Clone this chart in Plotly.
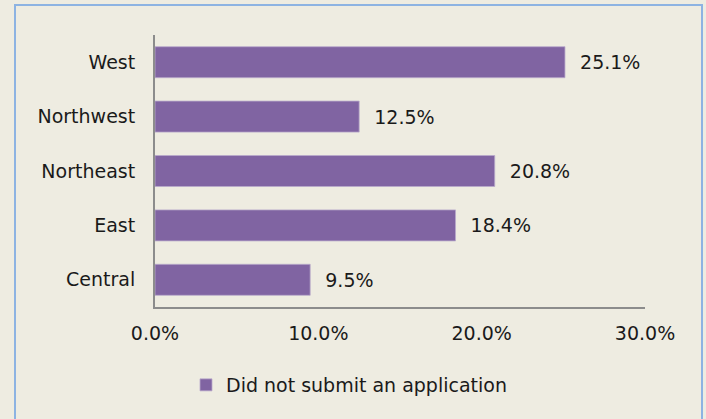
import plotly.graph_objects as go

regions = ["Central", "East", "Northeast", "Northwest", "West"]
pct_no_application = [9.5, 18.4, 20.8, 12.5, 25.1]
x_ticks = [0, 10, 20, 30]
x_tick_labels = ["0.0%", "10.0%", "20.0%", "30.0%"]
series_name = "Did not submit an application"

BG = "#EEECE1"
PURPLE = "#8064A2"
FONT = "DejaVu Sans"
FS = 19

# plot area in px: x 155..645, y 35..307
L, R, T, B = 155, 61, 35, 112
W, H = 706, 419
pw, ph = W - L - R, H - T - B


def px_x(p):
    return (p - L) / pw


def px_y(p):
    return (H - B - p) / ph


fig = go.Figure()
fig.add_trace(go.Bar(
    x=pct_no_application, y=regions, orientation="h",
    name=series_name,
    marker=dict(color=PURPLE, line=dict(color="#b9a9cc", width=0.8)),
    width=0.57,
    text=[f"  {v:.1f}%" for v in pct_no_application],
    textposition="outside", cliponaxis=False,
    textfont=dict(size=FS, color="#1a1a1a", family=FONT),
))

fig.update_layout(
    width=W, height=H,
    paper_bgcolor=BG, plot_bgcolor=BG,
    margin=dict(l=L, r=R, t=T, b=B),
    font=dict(family=FONT, size=FS, color="#1a1a1a"),
    showlegend=True,
    legend=dict(orientation="h", x=px_x(186), xanchor="left",
                y=px_y(385), yanchor="middle",
                bgcolor="rgba(0,0,0,0)", font=dict(size=FS),
                itemwidth=30),
    xaxis=dict(range=[0, 30], tickvals=x_ticks, ticktext=x_tick_labels,
               showgrid=False, zeroline=False, showline=True,
               linecolor="#8c8c8c", linewidth=2, ticks="",
               ticklabelstandoff=8),
    yaxis=dict(showgrid=False, zeroline=False, showline=True,
               linecolor="#8c8c8c", linewidth=2, ticks="",
               ticklabelstandoff=14),
)

# outer chart border (light blue)
fig.add_shape(type="rect", xref="paper", yref="paper",
              x0=px_x(15), x1=px_x(702), y0=px_y(440), y1=px_y(5),
              line=dict(color="#8DB3E2", width=2), layer="below")

fig.write_html("out.html", config={"displayModeBar": False},
               post_script="document.body.style.margin='0';")
